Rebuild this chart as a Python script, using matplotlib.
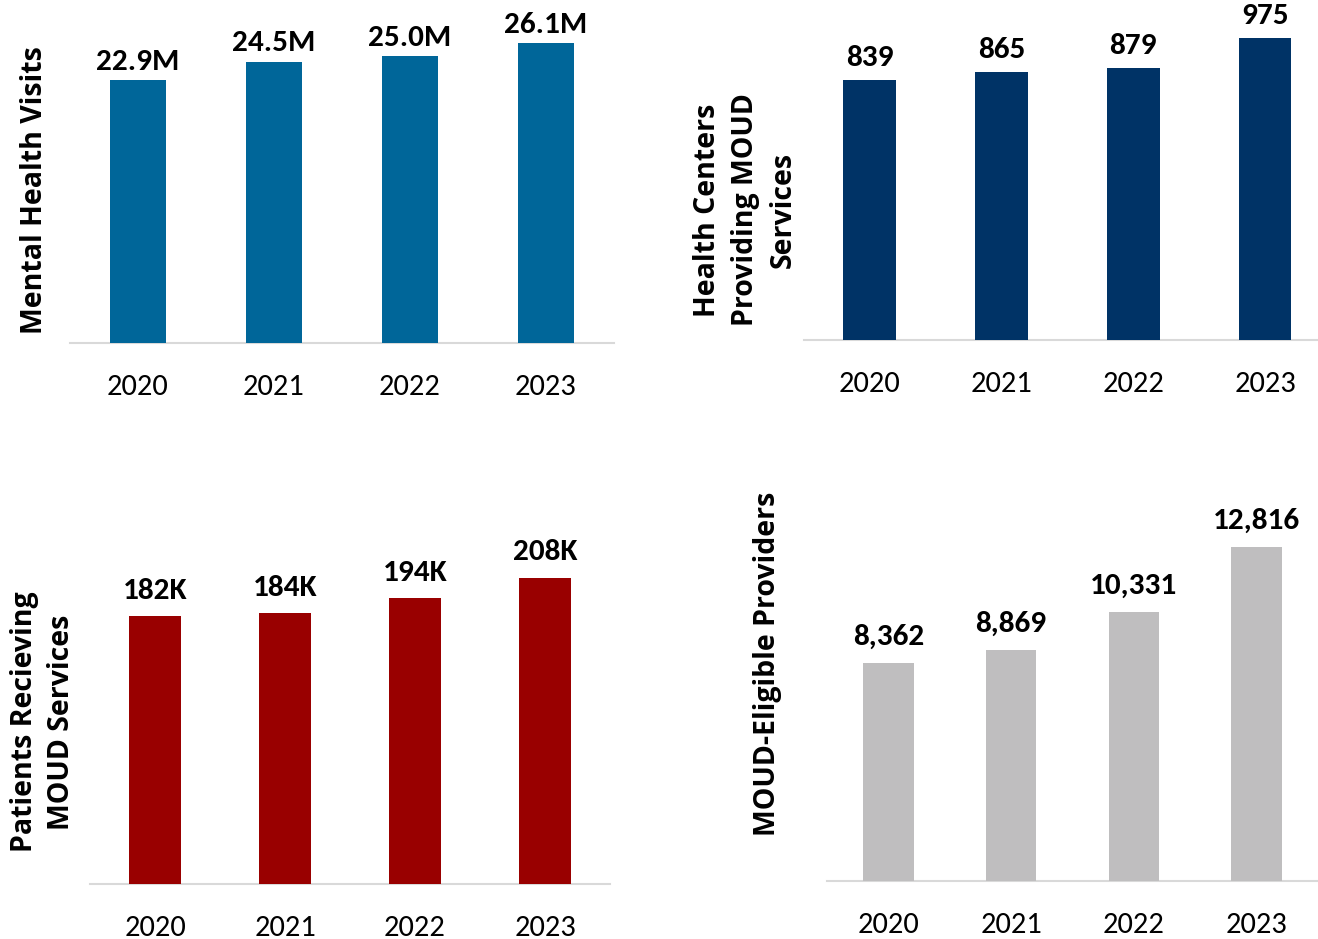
import matplotlib
matplotlib.use('Agg')
import matplotlib.pyplot as plt

years = ["2020", "2021", "2022", "2023"]

mh_visits = [22.9, 24.5, 25.0, 26.1]          # millions
mh_labels = ["22.9M", "24.5M", "25.0M", "26.1M"]

moud_centers = [839, 865, 879, 975]
moud_center_labels = ["839", "865", "879", "975"]

moud_patients = [182, 184, 194, 208]          # thousands
moud_patient_labels = ["182K", "184K", "194K", "208K"]

moud_providers = [8362, 8869, 10331, 12816]
moud_provider_labels = ["8,362", "8,869", "10,331", "12,816"]

W, H = 1318, 939
NUM_FONT = ['Carlito', 'Lato', 'DejaVu Sans']
LABEL_FONT = ['Open Sans', 'DejaVu Sans']

fig = plt.figure(figsize=(W / 100, H / 100), dpi=100)


def px_axes(left, top, right, bottom):
    # pixel box -> figure fraction
    return fig.add_axes([left / W, 1 - bottom / H, (right - left) / W, (bottom - top) / H])


def bar_panel(box, values, labels, color, ymax, width, offset):
    ax = px_axes(*box)
    x = range(len(years))
    ax.bar(x, values, width=width, color=color, zorder=3)
    ax.set_xlim(-0.5, 3.5)
    ax.set_ylim(0, ymax)
    for xi, v, lab in zip(x, values, labels):
        ax.annotate(lab, (xi, v), xytext=(0, offset), textcoords='offset points',
                    ha='center', va='baseline', fontsize=22.5, fontweight='bold',
                    family=NUM_FONT, color='black')
    ax.set_xticks(list(x))
    ax.set_xticklabels(years, family=NUM_FONT, fontsize=22)
    ax.tick_params(axis='x', length=0, pad=22)
    ax.set_yticks([])
    for s in ['top', 'right', 'left']:
        ax.spines[s].set_visible(False)
    ax.spines['bottom'].set_color('#d9d9d9')
    ax.spines['bottom'].set_linewidth(1.5)
    ax.set_facecolor('none')
    return ax


bar_panel((70, 10, 614, 343), mh_visits, mh_labels, '#006699', 29.0, 0.41, 7.5)
bar_panel((803.5, 10, 1331, 340), moud_centers, moud_center_labels, '#003366', 1066, 0.40, 10)
bar_panel((90, 480, 610, 884), moud_patients, moud_patient_labels, '#990000', 274.3, 0.40, 12.5)
bar_panel((827, 480, 1318, 881), moud_providers, moud_provider_labels, '#bfbebf', 15386, 0.41, 13)

# y-axis titles
ylabels = [
    (35, 190, "Mental Health Visits"),
    (745, 210, "Health Centers\nProviding MOUD\nServices"),
    (43, 722, "Patients Recieving\nMOUD Services"),
    (768, 664, "MOUD-Eligible Providers"),
]
for px, py, txt in ylabels:
    fig.text(px / W, 1 - py / H, txt, rotation=90, ha='center', va='center',
             multialignment='center', fontsize=20.5, fontweight='bold',
             family=LABEL_FONT, linespacing=1.4)

fig.savefig('out.png', dpi=100)
